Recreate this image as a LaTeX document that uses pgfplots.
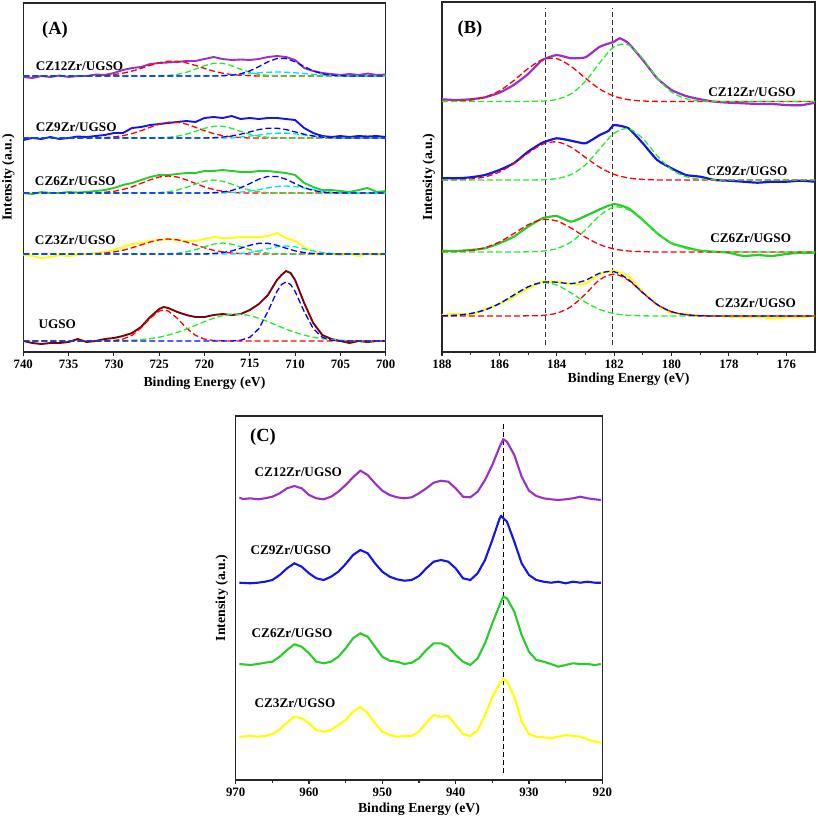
\documentclass[border=0pt]{standalone}
\usepackage{fontspec}
\setmainfont{Liberation Serif}
\usepackage{pgfplots}
\pgfplotsset{compat=1.18}

\definecolor{cpurple}{RGB}{155,48,200}
\definecolor{cblue}{RGB}{20,20,235}
\definecolor{cgreen}{RGB}{40,205,40}
\definecolor{cyellow}{RGB}{255,255,0}
\definecolor{cmaroon}{RGB}{125,0,10}
\definecolor{dred}{RGB}{255,0,0}
\definecolor{dgreen}{RGB}{40,235,40}
\definecolor{dblue}{RGB}{0,0,255}
\definecolor{dcyan}{RGB}{0,230,230}
\definecolor{vline}{RGB}{50,50,50}

\pgfplotsset{
  xps/.style={
    scale only axis, anchor=north west,
    x dir=reverse, ymin=0,
    axis line style={line width=1.2pt, black!85},
    xtick pos=bottom, ytick=\empty, tick align=outside,
    major tick length=4pt, minor tick length=2.5pt,
    tick style={black!85, line width=1.1pt},
    tick label style={font=\fontsize{12.8}{14}\selectfont\bfseries},
    /pgf/number format/assume math mode=true,
    /pgf/number format/1000 sep={},
    xlabel={Binding Energy (eV)}, ylabel={Intensity (a.u.)},
    label style={font=\fontsize{13.8}{16}\selectfont\bfseries},
  },
  spec/.style={line width=1.9pt, mark=none},
  comp/.style={line width=1.3pt, dash pattern=on 6pt off 3pt, mark=none},
}
\tikzset{
  lab/.style={anchor=west, font=\fontsize{13.2}{15}\selectfont\bfseries},
  ttl/.style={font=\fontsize{18.5}{20}\selectfont\bfseries},
}

\begin{document}
\begin{tikzpicture}
\path[use as bounding box] (0pt,0pt) rectangle (817pt,-817pt);

% ---------------- (A) Fe 2p
\begin{axis}[xps, at={(23.3pt,-3pt)}, width=362.4pt, height=349pt,
  xmin=700, xmax=740, ymax=349, xtick={700,705,...,740}, minor x tick num=0,
  xlabel style={at={(axis description cs:0.5,0)}, anchor=center, yshift=-31pt},
  ylabel style={at={(axis description cs:-0.041,0.5)}, anchor=center}]
% CZ12Zr
\addplot[spec, cpurple] coordinates {(740,275) (739,274) (738,276) (737,275) (736,276.5) (735,275) (734,276) (733,276) (732,277.5) (731,277) (730,279) (729,282) (728,284) (727,285) (726,288) (725,289) (724,289.5) (723,290) (722,291) (721,291) (720,293) (719,295) (718,293) (717,292) (716,292.5) (715,292) (714,293) (713,295) (712,296) (711,295) (710,292) (709,284) (708,281) (707,279) (706,278) (705,277) (704,278) (703,277) (702,278.5) (701,277) (700,277.5)};
\addplot[comp, dred] coordinates {(740,276) (733,276) (732,276.3) (731,276.7) (730,277.4) (729,278.8) (728,280.9) (727,283.6) (726,286.6) (725,289.2) (724,290.8) (723,290.8) (722,289.2) (721,286.6) (720,283.6) (719,280.9) (718,278.8) (717,277.4) (716,276.7) (715,276.3) (714,276) (700,276)};
\addplot[comp, dgreen] coordinates {(740,276) (726,276) (725,276.2) (724,276.6) (723,277.6) (722,279.7) (721,282.8) (720,286.3) (719,288.7) (718,288.7) (717,286.3) (716,282.8) (715,279.7) (714,277.6) (713,276.6) (712,276.2) (711,276) (700,276)};
\addplot[comp, dcyan] coordinates {(740,276) (720,276.1) (718,276.5) (717,277) (716,277.6) (715,278.4) (714,279.2) (713,279.8) (712,280) (711,279.8) (710,279.2) (709,278.4) (708,277.6) (707,277) (706,276.5) (704,276.1) (700,276)};
\addplot[comp, dblue] coordinates {(740,276) (719,276) (718,276.2) (717,276.8) (716,278.2) (715,281.1) (714,285.4) (713,290.2) (712,293.5) (711,293.5) (710,290.2) (709,285.4) (708,281.1) (707,278.2) (706,276.8) (705,276.2) (704,276) (700,276)};
% CZ9Zr
\addplot[spec, cblue] coordinates {(740,212) (739,214) (738,213) (737,215) (736,213) (735,214) (734,215.5) (733,215) (732,216) (731,217) (730,219) (729,219) (728,224) (727,225) (726,227) (725,228) (724,229) (723,230) (722,231) (721,230) (720,234) (719,235) (718,234) (717,236) (716,233) (715,234) (714,233) (713,234) (712,234) (711,233) (710,232) (709,224) (708,219) (707,216) (706,215) (705,216) (704,215) (703,216) (702,215.5) (701,216) (700,215)};
\addplot[comp, dred] coordinates {(740,214) (732,214) (731,214.4) (730,215.1) (729,216.3) (728,218.4) (727,221.3) (726,224.7) (725,227.9) (724,229.7) (723,229.7) (722,227.9) (721,224.7) (720,221.3) (719,218.4) (718,216.3) (717,215.1) (716,214.4) (715,214) (700,214)};
\addplot[comp, dgreen] coordinates {(740,214) (726,214) (725,214.2) (724,214.7) (723,215.8) (722,217.8) (721,220.6) (720,223.7) (719,225.7) (718,225.7) (717,223.7) (716,220.6) (715,217.8) (714,215.8) (713,214.7) (712,214.2) (711,214) (700,214)};
\addplot[comp, dcyan] coordinates {(740,214) (717,214) (716,215) (715,215.9) (714,217) (713,218.2) (712,218.9) (711,218.9) (710,218.2) (709,217) (708,215.9) (707,215) (706,214.4) (705,214) (700,214)};
\addplot[comp, dblue] coordinates {(740,214) (720,214) (719,214.3) (718,214.9) (717,216) (716,217.8) (715,220.1) (714,222.4) (713,223.8) (712,223.8) (711,222.4) (710,220.1) (709,217.8) (708,216) (707,214.9) (706,214.3) (705,214) (700,214)};
% CZ6Zr
\addplot[spec, cgreen] coordinates {(740,159) (739,158) (738,160) (737,159) (736,159) (735,160) (734,159.5) (733,160) (732,161) (731,162) (730,164) (729,167) (728,169) (727,172) (726,175) (725,177) (724,177) (723,178) (722,179) (721,179) (720,181) (719,181) (718,182) (717,181) (716,180) (715,180) (714,181) (713,181) (712,180) (711,179) (710,177) (709,169) (708,165) (707,162) (706,162) (705,161) (704,160) (703,162) (702,164) (701,160) (700,161)};
\addplot[comp, dred] coordinates {(740,159) (732,159) (731,159.7) (730,160.7) (729,162.5) (728,165.1) (727,168.6) (726,172.2) (725,175) (724,176) (723,175) (722,172.2) (721,168.6) (720,165.1) (719,162.5) (718,160.7) (717,159.7) (716,159) (700,159)};
\addplot[comp, dgreen] coordinates {(740,159) (726,159) (725,159.4) (724,160.2) (723,161.9) (722,164.6) (721,167.9) (720,170.8) (719,172) (718,170.8) (717,167.9) (716,164.6) (715,161.9) (714,160.2) (713,159.4) (712,159) (700,159)};
\addplot[comp, dcyan] coordinates {(740,159) (718,159) (717,159.4) (716,159.9) (715,160.9) (714,162.4) (713,164.1) (712,165.5) (711,166) (710,165.5) (709,164.1) (708,162.4) (707,160.9) (706,159.9) (705,159.4) (704,159) (700,159)};
\addplot[comp, dblue] coordinates {(740,159) (720,159) (719,159.3) (718,160) (717,161.5) (716,164.3) (715,168.4) (714,172.8) (713,175.6) (712,175.6) (711,172.8) (710,168.4) (709,164.3) (708,161.5) (707,160) (706,159.3) (705,159) (700,159)};
% CZ3Zr
\addplot[spec, cyellow] coordinates {(740,97) (739,96) (738,94) (737,95) (736,97) (735,96) (734,97) (733,98) (732,99) (731,100) (730,102) (729,105) (728,108) (727,109) (726,111) (725,112) (724,113) (723,112) (722,111) (721,111) (720,113) (719,115) (718,114) (717,114) (716,115) (715,115) (714,115) (713,116) (712,119) (711,114) (710,111) (709,105) (708,100) (707,99) (706,98) (705,97) (704,98) (703,96) (702,98) (701,97) (700,98)};
\addplot[comp, dred] coordinates {(740,98) (733,98) (732,98.4) (731,99) (730,100) (729,101.7) (728,104.2) (727,107.1) (726,110) (725,112.2) (724,113) (723,112.2) (722,110) (721,107.1) (720,104.2) (719,101.7) (718,100) (717,99) (716,98.4) (715,98) (700,98)};
\addplot[comp, dgreen] coordinates {(740,98) (725,98) (724,98.3) (723,98.8) (722,100.1) (721,102.3) (720,105.3) (719,107.9) (718,109) (717,107.9) (716,105.3) (715,102.3) (714,100.1) (713,98.8) (712,98.3) (711,98) (700,98)};
\addplot[comp, dcyan] coordinates {(740,98) (717,98) (716,98.6) (715,99.5) (714,101.2) (713,103.3) (712,105.2) (711,106) (710,105.2) (709,103.3) (708,101.2) (707,99.5) (706,98.6) (705,98.2) (704,98) (700,98)};
\addplot[comp, dblue] coordinates {(740,98) (720,98) (719,98.5) (718,99.4) (717,101.1) (716,103.8) (715,106.7) (714,108.7) (713,108.7) (712,106.7) (711,103.8) (710,101.1) (709,99.4) (708,98.5) (707,98) (700,98)};
% UGSO
\addplot[spec, cmaroon] coordinates {(740,11) (739,9) (738,8) (737,9) (736,9) (735,10) (734,13) (733,10) (732,11) (731,13) (730,14) (729,16) (728,19) (727,25) (726,35) (725,43) (724.5,45) (724,44) (723,40) (722,37) (721,35) (720,35) (719,37) (718,38) (717,37) (716,38) (715,42) (714,48) (713,57) (712,72) (711.5,77) (711,81) (710.5,79) (710,72) (709,49) (708,29) (707,17) (706,13) (705,11) (704,9) (703,11) (702,10) (701,11) (700,11)};
\addplot[comp, dred] coordinates {(740,11) (732,11) (730,11.5) (729,12.9) (728,16.7) (727,24) (726,33.7) (725,41) (724.5,42) (724,41) (723,33.7) (722,24) (721,16.7) (720,12.9) (719,11.5) (717,11) (700,11)};
\addplot[comp, dgreen] coordinates {(740,11) (730,11) (729,11.4) (728,11.8) (727,12.4) (726,13.3) (725,14.8) (724,16.9) (723,19.6) (722,22.9) (721,26.6) (720,30.4) (719,33.8) (718,36.4) (717,37.8) (716,37.8) (715,36.4) (714,33.8) (713,30.4) (712,26.6) (711,22.9) (710,19.6) (709,16.9) (708,14.8) (707,13.3) (706,12.4) (705,11.8) (704,11.4) (703,11) (700,11)};
\addplot[comp, dblue] coordinates {(740,11) (717,11) (716,11.8) (715,14.7) (714,23.4) (713,40.5) (712,60.6) (711.5,67.5) (711,70) (710.5,67.5) (710,60.6) (709,40.5) (708,23.4) (707,14.7) (706,11.8) (705,11) (700,11)};
\node[ttl] at (rel axis cs:0.0875,0.9226) {(A)};
\node[lab] at (axis cs:739.0,286) {CZ12Zr/UGSO};
\node[lab] at (axis cs:739.0,225) {CZ9Zr/UGSO};
\node[lab] at (axis cs:739.1,171) {CZ6Zr/UGSO};
\node[lab] at (axis cs:739.1,112) {CZ3Zr/UGSO};
\node[lab] at (axis cs:738.7,28) {UGSO};
\end{axis}

% ---------------- (B) Zr 3d
\begin{axis}[xps, at={(442pt,-2pt)}, width=373pt, height=350pt,
  xmin=175, xmax=188, ymax=350, xtick={176,178,...,188}, minor x tick num=1,
  xlabel style={at={(axis description cs:0.5,0)}, anchor=center, yshift=-27pt},
  ylabel style={at={(axis description cs:-0.035,0.5)}, anchor=center}]
\addplot[line width=1.5pt, vline, dash pattern=on 5pt off 3pt] coordinates {(184.4,7) (184.4,344)};
\addplot[line width=1.5pt, vline, dash pattern=on 5pt off 3pt] coordinates {(182.05,7) (182.05,344)};
% CZ12Zr
\addplot[spec, line width=2.2pt, cpurple, smooth, tension=0.3] coordinates {(188,252.7) (187.5,252) (187,252.7) (186.5,254.7) (186,259.3) (185.5,267) (185,278) (184.5,292) (184,297) (183.5,293.7) (183,294.7) (182.5,305.3) (182,310.3) (181.8,313.7) (181.5,308.7) (181,292) (180.5,273.7) (180,262) (179.5,256) (179,252.7) (178.5,250.3) (178,249.3) (177.5,248.7) (177,248) (176.5,248) (176,247) (175.5,246.7) (175,249.3)};
\addplot[comp, dred, smooth] coordinates {(188,250.6) (187.5,250.9) (187,251.9) (186.5,254.9) (186,261.1) (185.5,271.4) (185,283.4) (184.5,292.3) (184,293.3) (183.5,285.6) (183,273.8) (182.5,262.9) (182,255.8) (181.5,252.3) (181,251) (180.5,250.6) (180,250.5) (179,250.5) (178,250.5) (177,250.5) (176,250.5) (175,250.5)};
\addplot[comp, dgreen, smooth] coordinates {(188,250.5) (187,250.5) (186,250.5) (185.5,250.5) (185,250.6) (184.5,250.9) (184,252.6) (183.5,258.2) (183,270.7) (182.5,289.4) (182,305.3) (181.5,307.1) (181,293.2) (180.5,274.1) (180,260) (179.5,253.3) (179,251.1) (178.5,250.6) (178,250.5) (177,250.5) (176,250.5) (175,250.5)};
% CZ9Zr
\addplot[spec, line width=2.2pt, cblue, smooth, tension=0.3] coordinates {(188,173.7) (187.5,173.7) (187,174.7) (186.5,177) (186,182) (185.5,188.7) (185,200.3) (184.5,209.3) (184,213.7) (183.5,211.3) (183,208.7) (182.5,217) (182.2,221) (182,227) (181.5,223.7) (181,208.7) (180.5,192) (180,183.7) (179.5,177) (179,175.3) (178.5,172) (178,171.3) (177.5,170.3) (177,169.3) (176.5,170.3) (176,170.3) (175.5,171.3) (175,170.3)};
\addplot[comp, dred, smooth] coordinates {(188,172) (187.5,172.2) (187,173) (186.5,175.1) (186,180) (185.5,188.4) (185,198.9) (184.5,207.7) (184,210.1) (183.5,204.7) (183,194.6) (182.5,184.6) (182,177.6) (181.5,174) (181,172.6) (180.5,172.1) (180,172) (179,172) (178,172) (177,172) (176,172) (175,172)};
\addplot[comp, dgreen, smooth] coordinates {(188,172) (187,172) (186,172) (185.5,172) (185,172) (184.5,172.3) (184,173.4) (183.5,177.4) (183,187.2) (182.5,203.2) (182,218.8) (181.5,223.4) (181,213.3) (180.5,196.3) (180,182.4) (179.5,175.3) (179,172.8) (178.5,172.1) (178,172) (177,172) (176,172) (175,172)};
% CZ6Zr
\addplot[spec, line width=2.2pt, cgreen, smooth, tension=0.3] coordinates {(188,101.3) (187.5,101) (187,102) (186.5,103.7) (186,108.7) (185.5,115.3) (185,125.3) (184.5,133.7) (184,136) (183.5,130.3) (183,136) (182.5,142.7) (182,148) (181.5,143.7) (181,132) (180.5,118.7) (180,108.7) (179.5,104.7) (179,101.3) (178.5,100.3) (178,99.3) (177.5,96) (177,97) (176.5,96) (176,98) (175.5,99.3) (175,99.3)};
\addplot[comp, dred, smooth] coordinates {(188,100.1) (187.5,100.4) (187,101.5) (186.5,104.4) (186,110) (185.5,118.4) (185,127.2) (184.5,132.4) (184,131) (183.5,123.9) (183,114.8) (182.5,107.4) (182,103) (181.5,101) (181,100.3) (180.5,100) (180,100) (179,100) (178,100) (177,100) (176,100) (175,100)};
\addplot[comp, dgreen, smooth] coordinates {(188,100) (187,100) (186,100) (185.5,100) (185,100.2) (184.5,100.9) (184,103.4) (183.5,110) (183,122.2) (182.5,136.6) (182,145) (181.5,142.2) (181,131.6) (180.5,118.9) (180,109.1) (179.5,103.5) (179,101.1) (178.5,100.3) (178,100) (177,100) (176,100) (175,100)};
% CZ3Zr
\addplot[spec, line width=2.2pt, cyellow, smooth, tension=0.3] coordinates {(188,37) (187.5,38) (187,37) (186.5,42.7) (186,48) (185.5,55.3) (185,63.7) (184.5,70.3) (184,70.3) (183.5,68) (183,68.7) (182.5,78) (182,81.3) (181.5,75.3) (181,60.3) (180.5,47) (180,39.3) (179.5,38) (179,36) (178.5,36) (178,35.3) (177.5,34.7) (177,35.3) (176.5,33.7) (176,34.7) (175.5,34.7) (175,36)};
\addplot[comp, dgreen, smooth] coordinates {(188,36.2) (187.5,36.8) (187,38.5) (186.5,42.1) (186,48.4) (185.5,56.9) (185,65) (184.5,69.2) (184,67) (183.5,59) (183,49.7) (182.5,42.5) (182,38.4) (181.5,36.7) (181,36.2) (180.5,36) (180,36) (179,36) (178,36) (177,36) (176,36) (175,36)};
\addplot[comp, dred, smooth] coordinates {(188,36) (187,36) (186,36) (185.5,36) (185,36.2) (184.5,36.6) (184,38.8) (183.5,45.4) (183,58) (182.5,72.3) (182,77.9) (181.5,71.7) (181,59.1) (180.5,47.5) (180,40.3) (179.5,37.3) (179,36.3) (178.5,36) (178,36) (177,36) (176,36) (175,36)};
\addplot[comp, dblue, smooth] coordinates {(188,36.2) (187.5,36.8) (187,38.5) (186.5,42.1) (186,48.4) (185.5,56.9) (185,65.2) (184.5,69.8) (184,69.8) (183.5,68.4) (183,71.7) (182.5,78.8) (182,80.3) (181.5,72.4) (181,59.3) (180.5,47.5) (180,40.3) (179.5,37.3) (179,36.3) (178.5,36) (178,36) (177,36) (176,36) (175,36)};
\node[ttl] at (rel axis cs:0.075,0.923) {(B)};
\node[lab] at (axis cs:178.84,260) {CZ12Zr/UGSO};
\node[lab] at (axis cs:178.9,181) {CZ9Zr/UGSO};
\node[lab] at (axis cs:178.77,114) {CZ6Zr/UGSO};
\node[lab] at (axis cs:178.6,49) {CZ3Zr/UGSO};
\end{axis}

% ---------------- (C) Cu 2p
\begin{axis}[xps, at={(235.7pt,-416pt)}, width=366.6pt, height=364pt,
  xmin=920, xmax=970, ymax=364, xtick={920,930,...,970}, minor x tick num=1,
  xlabel style={at={(axis description cs:0.5,0)}, anchor=center, yshift=-29pt},
  ylabel style={at={(axis description cs:-0.038,0.5)}, anchor=center}]
\addplot[line width=1.4pt, black, dash pattern=on 5pt off 3pt] coordinates {(933.5,7) (933.5,358)};
\addplot[spec, line width=2.1pt, cpurple] coordinates {(969.5,282.3) (969,281) (968,281.7) (967,280.7) (966,281.7) (965,283.3) (964,286.7) (963,291.7) (962,294) (961,291.7) (960,285) (959,281.7) (958,280.7) (957,283.3) (956,288.3) (955,295) (954,302.7) (953,309.3) (952,305) (951,296.7) (950,289.3) (949,285) (948,282.7) (947,281.7) (946,282.7) (945,286.7) (944,291.7) (943,297.3) (942,299.3) (941,298.3) (940,291.7) (939,283.3) (938,282.7) (937,288.3) (936,300) (935,315) (934,333.3) (933.5,340.7) (933,338.3) (932,325) (931,303.3) (930,289.3) (929,284) (928,281.7) (927,280.7) (926,280) (925,280.7) (924,281.7) (923,283.3) (922,281.7) (921,280.7) (920.2,280)};
\addplot[spec, line width=2.1pt, cblue] coordinates {(969.5,197.3) (968,196.7) (967,197.3) (966,198.3) (965,200) (964,205) (963,211.7) (962,216.7) (961,213.3) (960,206.7) (959,201.7) (958,200) (957,203.3) (956,208.3) (955,216) (954,225) (953,230) (952,226.7) (951,216.7) (950,208.3) (949,203.3) (948,200.7) (947,199.3) (946,200) (945,204) (944,211.7) (943,218.3) (942,220) (941,218.3) (940,211.7) (939,201.7) (938,200) (937,206.7) (936,220) (935,240) (934,261.7) (933.8,264) (933,258.3) (932,238.3) (931,216.7) (930,205) (929,200) (928,198.3) (927,197.3) (926,198.3) (925,196.7) (924,198.3) (923,197.3) (922,198.3) (921,197.3) (920.2,197.3)};
\addplot[spec, line width=2.1pt, cgreen] coordinates {(969.5,116) (968,115) (967,116) (966,117.3) (965,118.3) (964,123.3) (963,130) (962,135.7) (961,133.3) (960,126.7) (959,118.3) (958,116.7) (957,118.3) (956,123.3) (955,131.7) (954,141.7) (953,146.7) (952,143.3) (951,133.3) (950,123.3) (949,119.3) (948,118.3) (947,116) (946,117.3) (945,121.7) (944,130) (943,136.7) (942,136.7) (941,133.3) (940,125) (939,118.3) (938,115) (937,121.7) (936,136.7) (935,156.7) (934,175) (933.5,183.3) (933,181.7) (932,168.3) (931,145) (930,128.3) (929,120) (928,118.3) (927,116) (926,113.3) (925,115) (924,116.7) (923,116) (922,116) (921,115) (920.2,116)};
\addplot[spec, line width=2.1pt, cyellow] coordinates {(969.5,43.3) (968,44) (967,43.3) (966,44) (965,46) (964,50.7) (963,57.3) (962,63.3) (961,61.7) (960,56.7) (959,50) (958,48.3) (957,50) (956,55) (955,60) (954,68.3) (953,73.3) (952,66.7) (951,56.7) (950,48.3) (949,45) (948,43.3) (947,44) (946,44) (945,48.3) (944,57.3) (943,65) (942,63.3) (941,64) (940,55) (939,46) (938,44) (937,50) (936,65) (935,83.3) (934,96.7) (933.5,100.7) (933,98.3) (932,83.3) (931,58.3) (930,46) (929,43.3) (928,42.7) (927,41.7) (926,43.3) (925,45) (924,44) (923,43.3) (922,40.7) (921,38.3) (920.2,37.3)};
\node[ttl] at (rel axis cs:0.0745,0.942) {(C)};
\node[lab] at (axis cs:967.9,308) {CZ12Zr/UGSO};
\node[lab] at (axis cs:968.46,230) {CZ9Zr/UGSO};
\node[lab] at (axis cs:968.3,147) {CZ6Zr/UGSO};
\node[lab] at (axis cs:967.9,77) {CZ3Zr/UGSO};
\end{axis}
\end{tikzpicture}
\end{document}
